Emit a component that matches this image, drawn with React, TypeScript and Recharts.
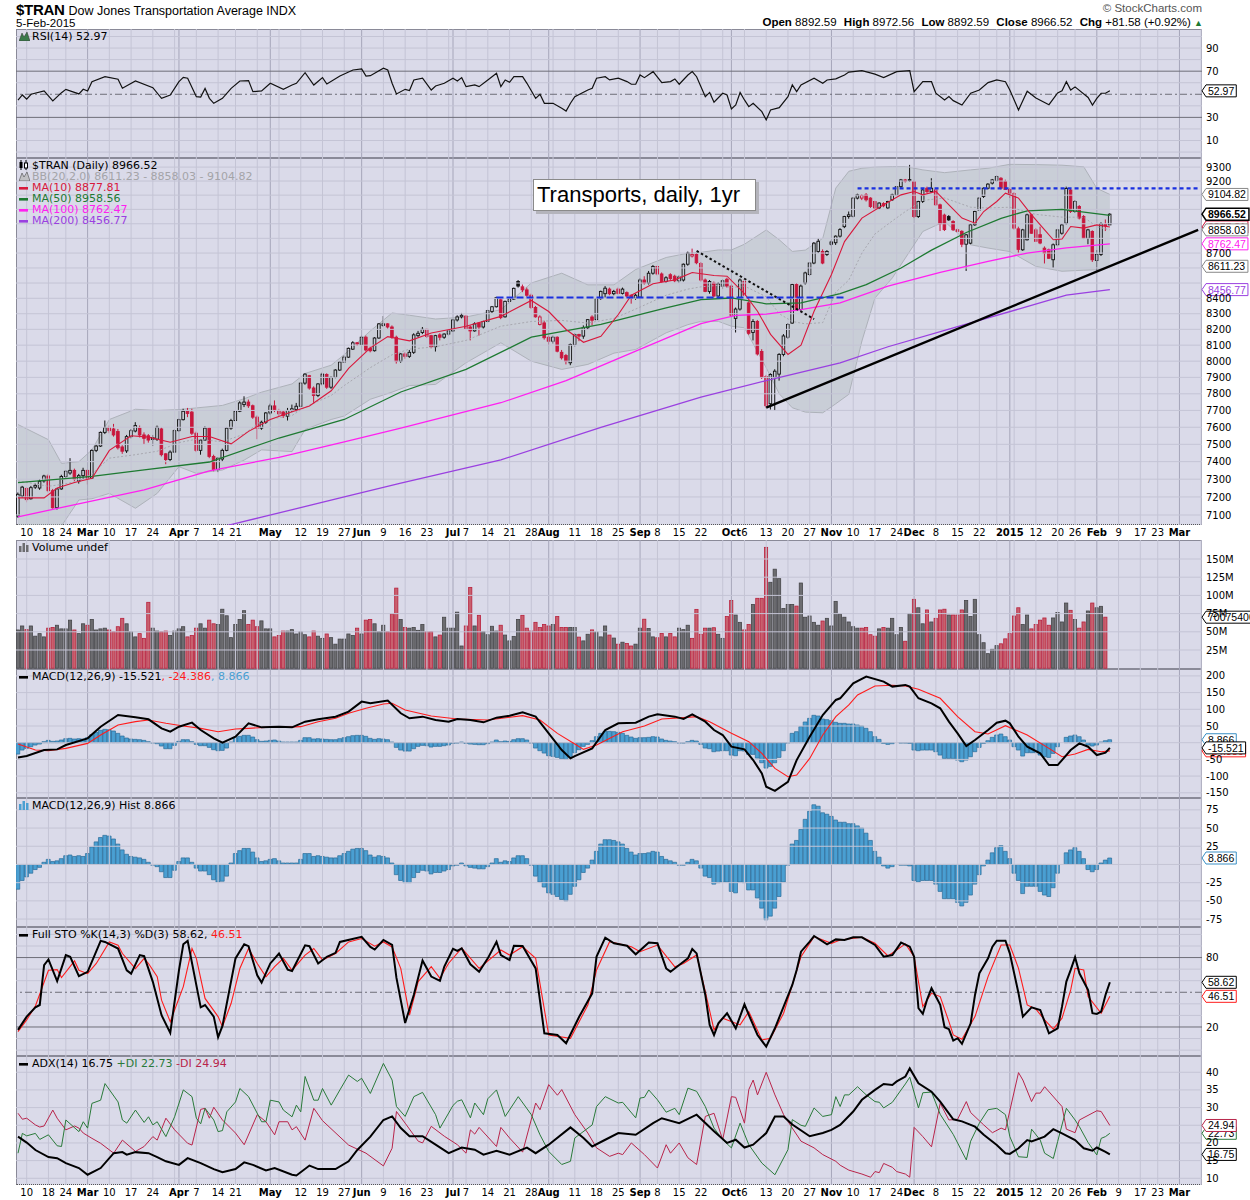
import React from "react";
import { ComposedChart, Line, Bar, Area, XAxis, YAxis, ReferenceLine } from "recharts";

// ---------- calendar ----------
const START = "2014-02-06";
const HOLIDAYS = ["2014-02-17", "2014-04-18", "2014-05-26", "2014-07-04", "2014-09-01", "2014-11-27", "2014-12-25", "2015-01-01", "2015-01-19", "2015-02-16"];

const tickDates = ["2014-02-10", "2014-02-18", "2014-02-24", "2014-03-03", "2014-03-10", "2014-03-17", "2014-03-24", "2014-04-01", "2014-04-07", "2014-04-14", "2014-04-21", "2014-05-01", "2014-05-12", "2014-05-19", "2014-05-27", "2014-06-02", "2014-06-09", "2014-06-16", "2014-06-23", "2014-07-01", "2014-07-07", "2014-07-14", "2014-07-21", "2014-07-28", "2014-08-01", "2014-08-11", "2014-08-18", "2014-08-25", "2014-09-02", "2014-09-08", "2014-09-15", "2014-09-22", "2014-10-01", "2014-10-06", "2014-10-13", "2014-10-20", "2014-10-27", "2014-11-03", "2014-11-10", "2014-11-17", "2014-11-24", "2014-12-01", "2014-12-08", "2014-12-15", "2014-12-22", "2015-01-02", "2015-01-12", "2015-01-20", "2015-01-26", "2015-02-02", "2015-02-09", "2015-02-17", "2015-02-23", "2015-03-02"];
const tickLabels = ["10", "18", "24", "Mar", "10", "17", "24", "Apr", "7", "14", "21", "May", "12", "19", "27", "Jun", "9", "16", "23", "Jul", "7", "14", "21", "28", "Aug", "11", "18", "25", "Sep", "8", "15", "22", "Oct", "6", "13", "20", "27", "Nov", "10", "17", "24", "Dec", "8", "15", "22", "2015", "12", "20", "26", "Feb", "9", "17", "23", "Mar"];

// ---------- daily prices ----------
const opens = [7095,7205,7248,7190,7255,7250,7290,7318,7235,7140,7245,7315,7335,7350,7290,7320,7350,7305,7465,7490,7570,7598,7590,7575,7485,7462,7545,7578,7595,7555,7550,7540,7530,7590,7445,7412,7455,7580,7645,7695,7690,7565,7465,7525,7595,7430,7355,7415,7465,7595,7640,7695,7735,7750,7728,7660,7595,7630,7685,7727,7700,7690,7665,7700,7705,7725,7865,7910,7835,7790,7860,7918,7840,7900,7945,7995,8025,8075,8115,8105,8150,8080,8065,8145,8225,8235,8215,8150,8000,8045,8030,8055,8160,8180,8200,8160,8090,8165,8150,8170,8190,8260,8280,8285,8215,8190,8240,8215,8250,8315,8345,8390,8280,8380,8395,8510,8475,8455,8420,8340,8231,8241,8150,8125,8150,8055,8035,7990,8104,8167,8157,8210,8279,8262,8398,8430,8460,8430,8460,8432,8437,8420,8400,8410,8520,8500,8565,8610,8560,8510,8555,8545,8515,8520,8625,8680,8690,8630,8520,8445,8500,8415,8480,8525,8480,8270,8330,8510,8370,8180,8250,8060,7905,7740,7900,7920,8042,8150,8240,8490,8327,8500,8556,8633,8711,8711,8690,8760,8770,8815,8880,8950,8952,9079,9079,9102,9079,9055,9010,9040,9010,9067,9102,9160,9208,9210,9196,8950,9055,9149,9125,9137,9032,8960,8950,8916,8859,8848,8760,8767,8893,8996,9090,9149,9185,9203,9220,9196,9140,9110,8865,8722,8790,8962,8858,8825,8733,8722,8655,8756,8835,8904,9136,8985,9020,8950,8800,8847,8650,8690,8895,8892.59];
const highs = [7225,7262,7255,7262,7275,7300,7325,7330,7245,7250,7325,7350,7420,7360,7330,7365,7355,7470,7500,7575,7640,7610,7620,7590,7495,7555,7590,7630,7610,7570,7560,7555,7610,7600,7450,7465,7590,7650,7710,7715,7710,7575,7530,7605,7600,7440,7425,7475,7600,7650,7700,7755,7785,7765,7735,7670,7640,7690,7740,7760,7710,7700,7715,7735,7745,7870,7925,7915,7845,7865,7930,7925,7905,7950,8000,8035,8085,8125,8120,8160,8160,8090,8150,8240,8285,8240,8225,8160,8050,8055,8070,8175,8190,8215,8205,8165,8165,8175,8175,8200,8265,8290,8305,8290,8225,8245,8245,8255,8325,8350,8410,8400,8385,8400,8470,8520,8490,8470,8430,8350,8290,8255,8160,8160,8155,8070,8045,8110,8175,8172,8225,8265,8290,8400,8450,8480,8470,8455,8470,8470,8445,8425,8430,8530,8545,8580,8620,8615,8570,8545,8565,8555,8550,8630,8710,8730,8700,8640,8530,8520,8510,8505,8525,8535,8485,8340,8530,8525,8380,8265,8260,8075,7915,7925,7950,8050,8170,8240,8495,8500,8490,8575,8640,8775,8800,8725,8720,8785,8820,8870,8955,8985,9085,9110,9105,9115,9085,9060,9050,9050,9060,9110,9165,9215,9215,9316,9205,9060,9145,9160,9220,9145,9040,8970,8960,8925,8870,8855,8830,8900,8990,9085,9155,9185,9215,9240,9228,9210,9150,9120,8880,8865,8970,8970,8870,8880,8745,8730,8765,8865,8900,9160,9145,9065,9030,8960,8865,8855,8720,8910,8930,8972.56];
const lows = [7085,7195,7170,7185,7245,7240,7280,7225,7135,7130,7240,7305,7325,7290,7275,7300,7270,7300,7455,7485,7560,7565,7545,7470,7445,7450,7535,7570,7540,7500,7510,7490,7520,7430,7385,7400,7450,7575,7640,7660,7555,7455,7440,7520,7420,7345,7340,7400,7460,7585,7635,7690,7720,7715,7650,7530,7585,7620,7675,7690,7665,7655,7640,7690,7695,7720,7855,7825,7745,7780,7850,7830,7830,7895,7940,7990,8020,8070,8095,8100,8060,8055,8060,8140,8215,8205,8140,7985,7990,8015,8020,8045,8150,8170,8145,8080,8060,8130,8140,8160,8185,8250,8270,8200,8130,8185,8160,8205,8245,8305,8340,8265,8275,8365,8390,8470,8440,8410,8330,8275,8225,8135,8095,8110,8055,8010,7980,7975,8090,8125,8140,8200,8225,8255,8390,8405,8420,8420,8425,8425,8405,8365,8390,8400,8490,8490,8555,8550,8500,8500,8520,8505,8500,8510,8615,8670,8625,8510,8440,8430,8405,8410,8460,8470,8280,8180,8320,8415,8165,8130,8035,7890,7715,7705,7700,7880,8030,8140,8235,8320,8320,8490,8545,8625,8700,8625,8680,8750,8755,8805,8870,8935,8945,9070,9065,9055,9010,9000,9000,9015,9000,9060,9095,9150,9190,9195,8940,8940,9045,9115,9115,9025,8850,8850,8920,8850,8840,8740,8580,8760,8885,8990,9080,9140,9175,9195,9140,9140,9080,8860,8700,8715,8785,8830,8775,8760,8630,8660,8600,8745,8825,8895,8975,8975,8930,8795,8760,8640,8580,8680,8850,8892.59];
const closes = [7215,7255,7185,7252,7265,7288,7318,7235,7140,7245,7315,7345,7350,7300,7320,7350,7305,7465,7490,7570,7598,7580,7555,7480,7460,7545,7580,7610,7555,7535,7525,7528,7600,7440,7412,7455,7580,7645,7695,7682,7565,7465,7525,7595,7430,7355,7420,7465,7595,7640,7695,7745,7750,7728,7660,7595,7630,7685,7727,7700,7680,7670,7700,7710,7725,7865,7920,7835,7790,7860,7920,7840,7900,7945,7995,8025,8080,8115,8108,8150,8070,8065,8145,8235,8235,8215,8150,8000,8045,8030,8055,8165,8175,8200,8155,8090,8160,8150,8170,8190,8260,8280,8290,8205,8190,8235,8215,8250,8320,8345,8405,8275,8380,8395,8465,8480,8455,8420,8340,8280,8279,8147,8125,8150,8062,8021,8000,8104,8167,8157,8210,8262,8258,8398,8445,8466,8430,8445,8432,8460,8415,8400,8420,8520,8500,8565,8610,8560,8510,8535,8530,8515,8540,8625,8700,8690,8635,8520,8445,8510,8415,8495,8515,8480,8290,8330,8520,8420,8175,8250,8045,7900,7728,7918,7938,8042,8158,8231,8490,8327,8480,8567,8633,8767,8780,8633,8711,8775,8815,8860,8950,8962,9079,9102,9098,9067,9020,9010,9044,9025,9055,9102,9160,9208,9200,9204,8950,9055,9137,9125,9149,9032,8900,8860,8927,8859,8848,8760,8824,8893,8985,9079,9149,9178,9208,9232,9149,9140,9115,8870,8725,8858,8962,8835,8780,8768,8700,8665,8756,8858,8892,9147,8985,9055,8940,8800,8858,8655,8690,8900,8884.94,8966.52];

// volume, millions (Feb 5 not yet reported)
const volumes = [52.5,58,53,58,44,47.5,43,55,56,59,54,54,66,52.5,47.5,61,59,67,52.5,54,55,52.5,50,57,68.5,61,50,43,47.5,41,90.5,55,51,50,51,45,51,54,57,43,45,55,61,55,66,61,60,81,72,42,60,67,79,60,66,57,65,54,54,43,45,51,51,53,47,50,46,43,51,44,41,47,42,33,40,40,47,45,55,47,66,67,61,50,59,50,74.5,110,67,56,55,56,52,60,50,50,43,45.5,70,55,55,77,30.5,58,111,58,72.6,50,46,57.6,51,59,45.5,37.5,43.7,67,72.6,55,51,63,56,60,58,60,71,56,56,56,56,42.7,37.5,46.6,52.6,49.7,43,58,45.5,41.4,33,35.7,34,30.5,33,55,67.3,54.4,43,41.8,47.7,43,47.7,43,55,53,59,41,80.8,46.6,55,55,55.6,46.6,41,71,93,73,63,52.6,60,87.6,96,96,166,118,136,123,82,87.6,87.6,85.3,117,70,71.7,63,59,64.8,68.5,58,91.8,74.5,70,63.5,57,55,55,56,46,44,54,56,55,68.5,46,56,37,75,94.6,83,61,80,63.5,68.5,80,81,73,73,73,80,93,71,94.6,46,35,20,26,31,33.5,40.3,47.5,71.7,83,60,73,54,60,66,69,59,69,76.4,63.5,89.5,79.5,67,55,63.5,78.6,89.5,83,85,70.0754,null];

const macdHist = [-34,-22,-17,-12,-7,-4,3,7,4,5,8,12,13,11,12,11,15,24,31,37,40,39,35,28,20,14,11,10,9,7,3,-1,-3,-10,-18,-18,-8,4,9,9,3,-5,-9,-9,-14,-21,-24,-23,-16,2,15,19,22,22,17,9,4,5,7,8,5,2,2,2,2,7,15,15,11,12,11,10,9,9,12,15,18,21,22,22,19,13,10,12,11,9,2,-14,-22,-25,-25,-18,-11,-8,-9,-13,-11,-11,-9,-7,-2,-1,2,-2,-4,-5,-6,-6,-3,2,8,3,5,4,9,12,12,8,-1,-16,-24,-31,-39,-41,-44,-48,-50,-41,-30,-21,-11,-5,6,18,28,34,34,33,31,28,22,17,13,15,15,16,18,17,11,7,5,3,-1,-1,3,7,5,-5,-16,-18,-27,-25,-24,-24,-37,-39,-24,-25,-35,-35,-46,-60,-76,-71,-60,-44,-24,-1,28,33,48,62,73,82,80,71,69,66,61,58,58,56,56,53,50,43,33,18,10,-2,-5,-3,0,-1,-1,-2,-22,-24,-22,-22,-22,-27,-37,-47,-47,-47,-52,-57,-52,-42,-27,-14,-2,6,16,23,26,18,8,-12,-22,-40,-30,-30,-30,-37,-42,-44,-32,-12,0,16,20,23,18,8,-7,-10,-7,2,6,8.866];

// ---------- overlays read at intervals: [day index, value] ----------
const ma10Pts = [[0,7195],[6,7195],[9,7250],[13,7281],[17,7305],[21,7465],[26,7550],[30,7542],[35,7512],[40,7546],[44,7546],[49,7503],[53,7576],[58,7646],[62,7683],[67,7727],[72,7818],[76,7955],[81,8083],[85,8154],[90,8127],[95,8177],[103,8220],[111,8283],[118,8386],[122,8314],[126,8199],[130,8118],[134,8156],[138,8295],[141,8420],[146,8495],[151,8521],[155,8570],[160,8550],[163,8545],[167,8430],[170,8316],[173,8168],[177,8042],[180,8100],[183,8316],[187,8556],[190,8778],[194,8939],[199,9032],[203,9102],[206,9126],[208,9102],[211,9126],[214,9032],[217,8939],[220,8904],[222,8985],[225,9055],[227,9114],[230,9079],[233,8962],[236,8858],[238,8790],[240,8795],[242,8881],[245,8870],[248,8892],[251,8877.81]];
const ma50Pts = [[0,7281],[17,7316],[29,7353],[44,7398],[60,7537],[75,7646],[88,7811],[103,7949],[118,8150],[134,8231],[149,8338],[157,8391],[164,8402],[172,8364],[180,8370],[189,8430],[195,8490],[203,8600],[210,8720],[218,8840],[226,8938],[232,8990],[240,9000],[251,8958.56]];
const ma100Pts = [[0,7090],[29,7240],[44,7347],[60,7425],[75,7515],[88,7595],[111,7746],[126,7880],[142,8062],[157,8237],[165,8290],[172,8297],[180,8326],[189,8370],[200,8480],[212,8570],[223,8644],[232,8700],[241,8735],[251,8762.47]];
const ma200Pts = [[48,7042],[56,7088],[75,7200],[88,7278],[111,7410],[134,7600],[157,7780],[172,7880],[189,7990],[200,8090],[215,8210],[230,8330],[241,8420],[251,8456.77]];

const bbIdx = [0,7,10,14,17,21,27,32,37,41,47,52,56,63,66,72,75,81,86,90,96,103,111,118,125,131,137,142,149,154,157,161,164,167,172,175,178,181,185,188,191,194,197,201,204,208,213,219,223,228,234,240,245,248,251];
const bbUpper = [7616,7527,7390,7400,7468,7646,7707,7700,7705,7715,7730,7770,7810,7860,7924,7975,8041,8190,8305,8290,8266,8279,8326,8500,8565,8488,8488,8590,8670,8699,8705,8721,8721,8760,8857,8790,8711,8720,8800,9150,9270,9292,9300,9304,9304,9280,9260,9280,9292,9320,9318,9314,9302,9148,9104.82];
const bbLower = [6950,6985,7040,7183,7190,7220,7137,7220,7371,7333,7352,7409,7468,7458,7587,7646,7667,7767,7810,7850,7857,7990,8115,8000,7949,7980,8050,8073,8178,8230,8251,8251,8220,8210,7959,7800,7716,7690,7686,7740,7797,8126,8402,8534,8667,8847,8916,8756,8734,8710,8610,8578,8585,8588,8611.23];
const bbMid = [7290,7260,7270,7290,7330,7420,7440,7460,7510,7530,7515,7560,7640,7670,7720,7790,7850,7960,8040,8075,8090,8130,8220,8250,8257,8240,8270,8330,8420,8460,8475,8485,8470,8480,8410,8300,8250,8235,8243,8440,8520,8700,8830,8920,8985,9063,9080,9015,9010,9015,8965,8946,8945,8880,8858.03];

const rsiPts = [[0,45],[1,49.4],[2,45.7],[3,50],[6,52.9],[8,44.2],[10,51.4],[11,54.3],[14,50.3],[15,54.3],[16,52.8],[17,60.9],[20,65.2],[23,63],[24,55.2],[27,61.5],[31,55.7],[33,46.5],[35,49.4],[37,60.9],[38,64.7],[39,63.9],[41,47.9],[42,47.6],[43,55.1],[44,46.5],[45,42.2],[47,46.5],[49,55.1],[51,61.5],[53,61.8],[54,52.3],[56,52.9],[58,59.5],[61,54.3],[63,58],[64,59.5],[66,68.7],[68,58],[70,64.4],[71,58.9],[74,65.8],[77,71],[79,71.9],[80,65.8],[81,66.1],[84,72.5],[85,71],[86,59.5],[87,50.3],[89,54.3],[90,53.2],[91,62.4],[93,63.9],[95,53.7],[96,57.2],[98,59.5],[100,63.9],[101,61.5],[102,64.4],[103,56.6],[105,58.1],[106,56.6],[108,62.4],[110,68.2],[111,56.6],[112,62.4],[113,60.4],[114,65.2],[116,65.2],[117,59.5],[119,46.5],[120,50],[121,42.2],[123,42.2],[125,37.9],[126,35.5],[127,42.2],[128,47.9],[131,53.7],[132,55.2],[133,63.9],[135,65.2],[136,62.4],[138,63.9],[140,61],[141,58.7],[142,58.7],[143,66.7],[144,64.4],[146,69.6],[148,60.1],[150,61],[151,63.3],[152,58.7],[154,66.7],[155,69.6],[156,65.2],[158,47.9],[159,51.6],[160,43.1],[162,50.9],[163,49.4],[164,37.3],[165,40.8],[166,51.6],[167,45.1],[168,39.3],[169,42.2],[171,35],[172,27.8],[173,36.4],[175,38.4],[177,47.9],[178,58.1],[179,52.3],[180,58.1],[183,63.9],[185,59.5],[186,62.4],[188,63.3],[190,66.7],[191,69.2],[194,70.4],[197,67.4],[199,64.4],[202,69.6],[205,70.4],[206,52.3],[208,60.9],[210,60.9],[211,50.9],[213,45.1],[214,48],[215,44.5],[217,40.7],[219,50.9],[221,53.7],[223,60.1],[225,62.4],[227,60.9],[228,53.7],[230,36.4],[232,52.6],[234,46.8],[237,41],[239,51.1],[240,53.1],[241,60.9],[242,53.7],[243,56.4],[246,47.2],[247,40.7],[248,46.4],[249,50.9],[250,50.9],[251,52.97]];

const macdPts = [[0,-44],[2,-40],[6,-22],[9,-20],[11,-7],[16,13],[19,48],[23,83],[27,76],[30,70],[33,43],[35,33],[37,48],[40,60],[42,38],[45,13],[47,0],[50,18],[53,58],[56,46],[60,48],[63,46],[66,63],[69,70],[73,78],[76,93],[79,123],[81,118],[85,126],[88,88],[90,73],[93,78],[96,68],[99,63],[101,71],[104,68],[107,61],[110,75],[113,81],[116,91],[119,78],[122,28],[125,-22],[127,-47],[128,-40],[132,-17],[135,38],[138,58],[142,60],[145,78],[147,85],[151,78],[153,71],[155,85],[158,63],[160,38],[162,23],[164,-12],[167,-20],[169,-52],[171,-92],[172,-132],[174,-144],[177,-117],[179,-52],[182,18],[185,83],[188,128],[189,133],[192,178],[195,198],[199,183],[201,168],[204,173],[205,168],[207,133],[210,118],[212,103],[214,63],[216,28],[218,-10],[220,8],[223,38],[225,60],[227,66],[228,58],[230,18],[232,-12],[235,-32],[237,-67],[239,-67],[240,-52],[242,-22],[244,-2],[246,-12],[248,-37],[250,-30],[251,-15.521]];
const signalPts = [[0,-4],[4,-22],[7,-24],[11,-17],[16,-2],[19,23],[23,53],[27,63],[30,68],[34,58],[38,50],[42,43],[46,33],[50,41],[53,43],[57,46],[61,46],[65,48],[69,63],[73,73],[76,88],[80,103],[84,116],[86,118],[89,98],[95,80],[101,71],[108,68],[116,81],[120,68],[124,28],[128,-4],[130,-20],[133,-7],[139,33],[144,50],[148,71],[153,75],[156,78],[159,63],[164,28],[168,3],[171,-32],[174,-77],[177,-102],[179,-97],[182,-47],[185,23],[188,78],[191,113],[193,143],[197,170],[201,172],[204,170],[207,160],[212,133],[216,78],[220,33],[223,26],[227,51],[232,23],[237,-17],[240,-42],[243,-34],[246,-20],[249,-27],[251,-24.386]];

const stoKPts = [[0,17.5],[2,29],[4,37],[5,39],[6,73.5],[7,78.4],[9,59.6],[11,82.1],[12,80.7],[14,64],[16,67.7],[19,94.4],[20,93.5],[23,87.8],[25,69],[26,66.1],[28,82.1],[29,81.2],[31,59],[33,30.2],[35,14.9],[37,69],[38,91.5],[39,94.4],[42,37],[43,39],[45,29],[46,11.2],[47,20.9],[50,79.3],[52,91.5],[53,89.8],[55,64.7],[56,58.4],[58,74.9],[60,83.5],[62,69.6],[63,68.4],[66,90.6],[67,89.8],[69,74.9],[71,80.7],[73,84.1],[74,93.5],[79,97.9],[81,89.2],[82,86.9],[84,95.2],[86,91],[87,62.4],[89,23.5],[91,47.8],[93,77.4],[95,63.6],[97,59.8],[98,72.2],[100,87.5],[101,85.7],[102,88],[104,74.2],[106,67.8],[108,79.3],[110,93.7],[111,82.2],[113,77.8],[114,90.2],[116,89.9],[119,70.6],[121,14.5],[124,13.1],[126,5.9],[129,28.9],[132,49.1],[133,80.8],[135,97.2],[137,92.3],[140,90.2],[142,82.8],[145,92.9],[147,92.3],[149,70.6],[150,67.8],[152,73.5],[154,79.3],[155,87.4],[156,83.6],[158,47.7],[159,21.8],[160,13.1],[161,23.2],[163,31.9],[165,18.9],[167,39.6],[168,30.4],[170,13.1],[172,3],[174,18.9],[176,37.6],[178,56.3],[179,69.3],[180,85.1],[182,93.7],[183,98.6],[186,91.4],[188,95.7],[190,95.2],[192,97.5],[194,97.5],[197,90.9],[199,80.8],[201,82.2],[203,92.9],[205,89.4],[206,80.8],[207,36.2],[208,31.3],[209,43.9],[210,53.5],[212,39.1],[213,19.8],[214,18.1],[215,8.3],[216,10.3],[217,5.4],[219,23.2],[220,47.7],[221,66.4],[223,79.3],[224,89.4],[225,94.6],[227,94.6],[228,83.6],[230,49.1],[231,29],[233,37],[235,34.7],[236,24.6],[237,14.5],[239,18.9],[240,37.6],[241,59.2],[242,69.3],[243,80.3],[244,66.4],[246,52],[247,31.9],[248,31.3],[249,33.3],[250,47.7],[251,58.62]];
const stoDPts = [[0,16],[2,26.1],[4,38.2],[7,69],[9,69.6],[10,62.7],[13,77.1],[14,69],[16,66.1],[18,74.9],[21,93.5],[23,90.6],[24,83.5],[27,70.5],[29,79.3],[30,74.9],[32,63.4],[33,43.2],[35,24.6],[38,54.9],[40,87.8],[41,79.3],[43,44.7],[46,29],[47,20.3],[49,40.5],[51,70.5],[53,87.8],[55,74.9],[57,63.4],[59,72.1],[61,79.3],[63,69],[66,82.1],[68,87.8],[70,77.8],[73,83.5],[76,93.5],[79,96.4],[82,89.8],[84,93.5],[86,89.2],[88,70.5],[90,30.2],[92,59.2],[95,72.2],[97,62.1],[99,75.1],[102,88.1],[106,70.7],[111,86.5],[113,82.2],[116,89.4],[119,79.3],[122,13.1],[127,10.2],[131,39],[133,69.3],[136,93.7],[141,89.4],[143,85.1],[147,90.8],[151,72],[153,74.9],[156,82.2],[158,50.6],[160,17.5],[162,27.6],[166,21.8],[168,33.3],[171,8.8],[173,10.2],[176,31.9],[180,80.8],[183,98.1],[187,92.3],[189,95.2],[194,97.5],[197,92.3],[200,81.4],[204,91.8],[206,80.8],[208,37.6],[210,49.1],[212,46.3],[214,24.6],[215,13.1],[217,9.4],[220,29],[223,63.5],[226,90.9],[228,90.9],[230,70.7],[232,39.1],[234,35.4],[236,26.1],[238,18.1],[240,27.6],[242,52],[243,70.7],[245,69.3],[246,46.3],[249,31.9],[251,46.51]];

const adxPts = [[0,21.8],[2,20.1],[4,18],[7,16],[9,15.7],[11,14.3],[14,12.9],[16,11],[19,12.9],[22,17.1],[24,17.4],[25,16.7],[27,17.4],[30,17.1],[32,16],[34,14.8],[37,13.8],[39,15.7],[42,14.3],[45,12.6],[47,11.7],[50,12.6],[52,14.5],[54,13.8],[57,12.2],[59,12.9],[63,11],[64,10.8],[67,13.6],[69,12.6],[73,12.6],[76,14.8],[78,18],[81,21.8],[84,26.5],[86,27.5],[88,24.2],[90,21.9],[93,21.9],[96,19.5],[99,17.1],[102,18.7],[105,18.1],[107,16.7],[110,17.8],[113,16.7],[117,18.7],[119,17.1],[122,19.5],[127,24.4],[130,21.4],[132,19],[135,20.9],[138,22.8],[142,22.3],[146,25.6],[148,27],[152,25.6],[156,28],[160,23.3],[163,20],[165,20.9],[167,18.7],[169,19.5],[172,22.8],[174,27.5],[176,27.5],[178,25.2],[182,21.9],[185,22.8],[187,23.7],[189,25.1],[192,28.9],[194,32.2],[197,35],[199,36.7],[201,36.4],[202,37.4],[204,38.8],[205,41.1],[207,36.9],[210,34.5],[212,31.7],[215,26.7],[217,26.1],[220,24.6],[222,22.3],[225,19.4],[227,17.1],[228,16.9],[230,18.5],[232,20.8],[233,20.4],[236,21.8],[238,23.9],[240,22.7],[243,20.8],[245,18.5],[247,17.8],[248,18.7],[250,17.5],[251,16.75]];
const plusDiPts = [[0,17.1],[1,22.7],[2,22],[4,22.7],[5,21],[7,22.3],[9,19.2],[10,19],[11,26.5],[14,23.2],[15,26],[16,24.2],[17,31.2],[19,32.1],[20,36.8],[23,31.6],[24,26.5],[25,25.6],[27,29.3],[29,25.8],[30,27.4],[31,25.1],[32,26],[34,21.8],[36,27.4],[38,35],[40,33.1],[41,27],[42,25.4],[43,29.8],[45,26.5],[46,23.2],[47,23.5],[48,28.8],[50,31.6],[51,35.4],[53,33.1],[56,26],[57,26],[58,32.1],[60,31.6],[61,29.3],[63,27.4],[64,30.7],[65,28.8],[66,38.8],[68,32.1],[69,32.1],[70,35.4],[72,30.7],[74,35],[76,39.2],[78,37.4],[79,38.3],[81,34],[84,42.5],[86,37.8],[87,30.3],[89,27.5],[91,33.1],[93,34.3],[96,28],[97,24.2],[100,30.6],[101,31.8],[102,32.2],[104,27.1],[105,31.3],[107,28],[108,32.5],[110,35],[112,27.5],[115,33.1],[118,28],[120,22.3],[122,17.6],[125,13.9],[127,14.8],[128,21.4],[132,25.1],[133,30.3],[135,33.1],[138,31.3],[139,31.5],[142,27.1],[143,32.7],[144,32.9],[145,35],[147,32.2],[149,28.7],[151,29.8],[152,28],[154,35.5],[156,34.6],[158,30.3],[160,24.2],[162,20.9],[164,18.6],[166,25.6],[168,19.5],[171,14.3],[174,11],[177,18.1],[178,26.6],[180,25],[181,24.7],[183,29.9],[185,27.5],[187,28],[188,33.1],[189,30.3],[190,33.6],[191,33.6],[193,35.9],[195,33.6],[197,31.7],[198,31.5],[199,29.9],[201,31.5],[203,35],[204,36.7],[205,38.6],[207,29.9],[208,34.2],[210,34.4],[212,28.1],[215,22.4],[218,15.2],[219,20.5],[221,25.6],[223,29.4],[225,29.8],[227,28],[228,21.8],[230,16.1],[232,15.9],[233,23.9],[235,20.8],[236,17.1],[238,15.6],[239,20.4],[241,29.8],[243,26.5],[244,24.6],[246,20.1],[248,16.6],[249,21.3],[250,21.8],[251,22.73]];
const minusDiPts = [[0,28.4],[1,26.7],[2,27],[4,25.1],[5,24.5],[6,24.8],[8,29.3],[9,27],[11,23.7],[13,24.8],[14,24.2],[15,22.8],[17,21.3],[19,19.9],[22,17.1],[24,20.8],[27,17.6],[29,19],[31,21.8],[32,20.8],[34,27],[36,23.7],[39,19.9],[40,19.4],[42,29.5],[43,29.8],[44,27],[45,30.1],[47,26.5],[50,22.8],[52,19.5],[55,28],[57,26],[59,22.3],[60,26],[62,26],[63,23.7],[64,24.6],[66,20.8],[68,29.8],[70,26.3],[76,19.4],[80,17.1],[84,13.5],[86,18.5],[87,28.9],[89,25.6],[92,20.5],[93,20],[95,24.7],[98,21.9],[101,19.5],[103,17.1],[104,23.7],[105,22.5],[106,24.4],[110,19],[111,24.4],[113,21.4],[116,17.4],[119,31.3],[120,29.4],[122,36.5],[124,33.5],[125,35.1],[128,28],[131,22.8],[133,18.6],[136,16.2],[138,17.1],[139,16.7],[141,20],[144,16.7],[147,12.9],[149,19.5],[150,17.1],[152,20],[154,15.8],[156,13.9],[158,27.5],[160,28.4],[162,20.9],[164,33.1],[165,32.9],[167,25.6],[168,35.1],[169,37.8],[170,33.6],[172,40],[174,33.6],[176,28],[178,24.2],[180,20.5],[183,18.6],[185,16.7],[188,14.8],[189,13.7],[191,12.3],[194,11.2],[196,10.3],[197,11.9],[198,11.6],[199,14.2],[201,13.1],[202,11.9],[204,11.2],[205,10.3],[206,24.4],[208,21.8],[210,18.9],[212,31.2],[214,26.5],[216,26.7],[218,31.7],[219,28.6],[222,25.1],[224,22.9],[226,24.2],[227,23.7],[230,39.9],[231,37.8],[233,31.7],[234,34.1],[235,34.1],[236,35.9],[240,30.3],[241,23.9],[243,22.9],[244,26.5],[248,29.1],[249,28.9],[251,24.94]];

// hand-drawn annotations: [startIdx, startPrice, endIdx, endPrice]
const dottedTrend = [156, 8715, 183, 8265];
const lowerResist = [110, 8405, 190, 8405];
const upperResist = [193, 9148, 271.3, 9148];
const supportTrend = [172, 7717, 271.3, 8858];

// ---------- build table ----------
function tradingDays(start: string, count: number) {
  const out: string[] = [];
  const d = new Date(start + "T12:00:00Z");
  while (out.length < count) {
    const dow = d.getUTCDay();
    const s = d.toISOString().slice(0, 10);
    if (dow !== 0 && dow !== 6 && !HOLIDAYS.includes(s)) out.push(s);
    d.setUTCDate(d.getUTCDate() + 1);
  }
  return out;
}
const days = tradingDays(START, 273);

const rows: any[] = closes.map((c, i) => ({
  i, o: opens[i], h: highs[i], l: lows[i], c,
  range: [lows[i], highs[i]],
  vol: volumes[i],
  hist: macdHist[i],
  down: i > 0 && c < closes[i - 1],
}));
const put = (key: string, pts: number[][]) => pts.forEach(([i, v]) => { rows[i][key] = v; });
put("ma10", ma10Pts); put("ma50", ma50Pts); put("ma100", ma100Pts); put("ma200", ma200Pts);
put("rsi", rsiPts); put("macd", macdPts); put("signal", signalPts);
put("k", stoKPts); put("d", stoDPts); put("adx", adxPts); put("pdi", plusDiPts); put("mdi", minusDiPts);
bbIdx.forEach((i, n) => { rows[i].bb = [bbLower[n], bbUpper[n]]; rows[i].bbMid = bbMid[n]; });

const tickIdx = tickDates.map((d) => days.indexOf(d));
const labelAt: Record<number, string> = {};
tickIdx.forEach((k, n) => { labelAt[k] = tickLabels[n]; });

const weekLines: number[] = [];
const monthLines: number[] = [];
for (let k = 1; k < days.length; k++) {
  const a = new Date(days[k - 1] + "T12:00:00Z");
  const b = new Date(days[k] + "T12:00:00Z");
  if (b.getUTCMonth() !== a.getUTCMonth()) monthLines.push(k);
  else if (b.getUTCDay() < a.getUTCDay()) weekLines.push(k);
}
if (!monthLines.includes(tickIdx[0]) && !weekLines.includes(tickIdx[0])) weekLines.push(tickIdx[0]);

// ---------- style ----------
const W = 1250;
const LEFT = 16;
const AXW = 48;
const PLOT_W = W - LEFT - AXW;
const XDOM: [number, number] = [-0.46, 272.18];
const BG = "#dadae9";
const GRID = "#c4c4d5";
const GRID_M = "#a6a6ba";
const RED = "#c8163c";
const DARK = "#6e6e78";
const FONT = "DejaVu Sans, Verdana, sans-serif";
const TAGFONT = "Liberation Sans, Arial, sans-serif";
const margin = { top: 0, right: 0, bottom: 0, left: LEFT };
const range = (a: number, b: number, s: number) => { const r: number[] = []; for (let v = a; v <= b + 1e-9; v += s) r.push(v); return r; };

const Candle = (p: any) => {
  const { x, y, width, height, payload } = p;
  if (!payload || height == null || isNaN(y)) return null;
  const { o, h, l, c, down } = payload;
  const cx = x + width / 2;
  const lh = Math.log(h), ll = Math.log(l);
  const py = (v: number) => (lh === ll ? y : y + (height * (lh - Math.log(v))) / (lh - ll));
  const col = down ? RED : "#111";
  const top = py(Math.max(o, c));
  const bot = py(Math.min(o, c));
  const filled = c < o;
  const bh = Math.max(bot - top, 1);
  return (
    <g>
      <line x1={cx} x2={cx} y1={y} y2={top} stroke={col} strokeWidth={1} />
      <line x1={cx} x2={cx} y1={top + bh} y2={y + height} stroke={col} strokeWidth={1} />
      <rect x={cx - 1.3} y={top} width={2.6} height={bh} fill={filled ? col : "none"} stroke={col} strokeWidth={0.9} />
    </g>
  );
};

const VolBar = (p: any) => {
  const { x, y, width, height, payload } = p;
  if (!payload || !height || isNaN(y)) return null;
  const red = payload.down;
  return <rect x={x + 0.4} y={y} width={width - 0.8} height={height} fill={red ? "#c8606e" : "#6c6c70"} stroke={red ? "#b8203c" : "#454548"} strokeWidth={0.8} />;
};

const DateTick = (p: any) => {
  const lbl = labelAt[p.payload.value] ?? "";
  const bold = /[A-Za-z]/.test(lbl) || lbl === "2015";
  return (
    <text x={p.x} y={p.y + 11} textAnchor="middle" fontSize={10} fontFamily={FONT} fontWeight={bold ? 700 : 400} fill="#000">{lbl}</text>
  );
};

// value tag at the right edge, pointing at the value
const TAG_FS = 10.5;
const textW = (t: string) => [...t].reduce((s, ch) => s + (ch === "." ? 0.278 : ch === "-" ? 0.333 : 0.556), 0) * TAG_FS;
const tag = (text: string, border: string, color = "#000", bold = false) => (props: any) => {
  const vb = props.viewBox;
  if (!vb) return null;
  const x0 = vb.x + vb.width;
  const y0 = vb.y;
  const w = textW(text) + (bold ? 5 : 4);
  return (
    <g>
      <path d={`M${x0},${y0} L${x0 + 4},${y0 - 6} L${x0 + 4 + w},${y0 - 6} L${x0 + 4 + w},${y0 + 6} L${x0 + 4},${y0 + 6} Z`} fill="#fff" stroke={border} strokeWidth={bold ? 1.5 : 1} />
      <text x={x0 + 6} y={y0 + 4} fontSize={TAG_FS} fontFamily={TAGFONT} fontWeight={bold ? 700 : 400} fill={color}>{text}</text>
    </g>
  );
};

const vGrid = () => [
  ...weekLines.filter((k) => k < XDOM[1]).map((k) => <ReferenceLine key={"w" + k} x={k} stroke={GRID} strokeWidth={1} />),
  ...monthLines.filter((k) => k < XDOM[1]).map((k) => <ReferenceLine key={"m" + k} x={k} stroke={GRID_M} strokeWidth={1} />),
];
const hGrid = (vals: number[]) => vals.map((v) => <ReferenceLine key={"h" + v} y={v} stroke={GRID} strokeWidth={1} />);

const xAxis = (show: boolean) => (
  <XAxis type="number" dataKey="i" domain={XDOM} allowDataOverflow ticks={tickIdx} interval={0} hide={!show} height={15} tickLine={false} axisLine={false} tickSize={0} tickMargin={0} tick={<DateTick />} />
);
const yAxis = (domain: [number, number], ticks: number[], fmt?: (v: number) => string, scale?: any) => (
  <YAxis orientation="right" width={AXW} domain={domain} allowDataOverflow ticks={ticks} interval={0} scale={scale || "linear"} tickLine={false} axisLine={false} tickSize={0} tickMargin={4} tick={{ fontSize: 10, fontFamily: FONT, fill: "#000" }} tickFormatter={fmt} />
);

const Frame = ({ top, height, dotted }: any) => (
  <div style={{ position: "absolute", left: LEFT, top, width: PLOT_W, height, background: BG, border: "1px solid #8a8a98", borderBottom: dotted ? "1px dotted #555" : "1px solid #8a8a98", boxSizing: "border-box" }} />
);

const Legend = ({ top, children }: any) => (
  <div style={{ position: "absolute", left: 19, top, font: `11px ${FONT}`, lineHeight: "13px", whiteSpace: "nowrap", color: "#000" }}>{children}</div>
);
const Dash = ({ color }: any) => (
  <svg width="11" height="9" style={{ marginRight: 2, verticalAlign: "middle" }}><rect x="0" y="3" width="9" height="2.6" fill={color} /></svg>
);
const Mount = ({ color }: any) => (
  <svg width="11" height="10" style={{ marginRight: 2, verticalAlign: "-1px" }}><path d="M0,10 L3,2 L5,6 L8,1 L11,10 Z" fill={color} stroke="#333" strokeWidth="0.5" /></svg>
);
const Bars = ({ color }: any) => (
  <svg width="11" height="10" style={{ marginRight: 2, verticalAlign: "-1px" }}><rect x="0" y="4" width="2.5" height="6" fill={color} /><rect x="3.5" y="1" width="2.5" height="9" fill={color} /><rect x="7" y="3" width="2.5" height="7" fill={color} /></svg>
);
const CandleIcon = () => (
  <svg width="11" height="10" style={{ marginRight: 2, verticalAlign: "-1px" }}><line x1="2" x2="2" y1="0" y2="10" stroke="#000" /><rect x="0.5" y="2" width="3" height="6" fill="#000" /><line x1="7" x2="7" y1="0" y2="10" stroke="#000" /><rect x="5.5" y="3" width="3" height="5" fill="#fff" stroke="#000" /></svg>
);

const seg = (s: number[]) => [{ x: s[0], y: s[1] }, { x: s[2], y: s[3] }];

export default function App() {
  const P = { rsi: 29, price: 158, vol: 540, macd: 669, hist: 798, sto: 927, adx: 1056 };
  const H = 129;
  const PH = 367;
  return (
    <div style={{ position: "absolute", left: 0, top: 0, width: W, height: 1200, background: "#fff", overflow: "hidden", fontFamily: FONT }}>
      {/* header */}
      <div style={{ position: "absolute", left: 16, top: 1, whiteSpace: "nowrap", fontFamily: TAGFONT }}>
        <span style={{ fontSize: 15, fontWeight: 700, letterSpacing: -0.3 }}>$TRAN</span>
        <span style={{ fontSize: 12.5, marginLeft: 4 }}>Dow Jones Transportation Average INDX</span>
      </div>
      <div style={{ position: "absolute", left: 16, top: 17, fontSize: 11.5, fontFamily: TAGFONT }}>5-Feb-2015</div>
      <div style={{ position: "absolute", right: 48, top: 2, fontSize: 11.5, fontFamily: TAGFONT, color: "#555" }}>© StockCharts.com</div>
      <div style={{ position: "absolute", right: 47, top: 16, fontSize: 11.5, fontFamily: TAGFONT, whiteSpace: "nowrap" }}>
        <b>Open</b> 8892.59 <b style={{ marginLeft: 4 }}>High</b> 8972.56 <b style={{ marginLeft: 4 }}>Low</b> 8892.59 <b style={{ marginLeft: 4 }}>Close</b> 8966.52 <b style={{ marginLeft: 4 }}>Chg</b> +81.58 (+0.92%) <span style={{ color: "#1e7a32", fontSize: 9 }}>▲</span>
      </div>

      <Frame top={P.rsi} height={H} />
      <Frame top={P.price} height={PH} dotted />
      <Frame top={P.vol} height={H} />
      <Frame top={P.macd} height={H} />
      <Frame top={P.hist} height={H} />
      <Frame top={P.sto} height={H} />
      <Frame top={P.adx} height={H} dotted />

      {/* RSI */}
      <div style={{ position: "absolute", left: 0, top: P.rsi }}>
        <ComposedChart width={W} height={H} data={rows} margin={margin}>
          {xAxis(false)}
          {yAxis([-5.15, 106.5], [90, 70, 30, 10])}
          {vGrid()}
          {hGrid([0, 10, 20, 40, 60, 80, 90, 100])}
          <ReferenceLine y={70} stroke={DARK} />
          <ReferenceLine y={30} stroke={DARK} />
          <ReferenceLine y={50} stroke={DARK} strokeDasharray="7 3 2 3" />
          <Line dataKey="rsi" stroke="#111" strokeWidth={1.2} dot={false} connectNulls isAnimationActive={false} />
          <ReferenceLine y={52.97} stroke="none" label={tag("52.97", "#000")} />
        </ComposedChart>
      </div>

      {/* Price */}
      <div style={{ position: "absolute", left: 0, top: P.price }}>
        <ComposedChart width={W} height={PH + 15} data={rows} margin={margin}>
          {xAxis(true)}
          {yAxis([7045, 9366], [9300, 9200, 8700, 8400, 8300, 8200, 8100, 8000, 7900, 7800, 7700, 7600, 7500, 7400, 7300, 7200, 7100], undefined, "log")}
          {vGrid()}
          {hGrid(range(7100, 9300, 100))}
          <Area dataKey="bb" stroke="#aeb2ba" strokeWidth={1} fill="#b4bec2" fillOpacity={0.45} connectNulls dot={false} isAnimationActive={false} />
          <Line dataKey="bbMid" stroke="#a8a8b0" strokeDasharray="2 2" strokeWidth={1} dot={false} connectNulls isAnimationActive={false} />
          <Line dataKey="ma200" stroke="#9a40e0" strokeWidth={1.3} dot={false} connectNulls isAnimationActive={false} />
          <Line dataKey="ma100" stroke="#ff20f0" strokeWidth={1.3} dot={false} connectNulls isAnimationActive={false} />
          <Line dataKey="ma50" stroke="#1e7a32" strokeWidth={1.3} dot={false} connectNulls isAnimationActive={false} />
          <Line dataKey="ma10" stroke="#d8183c" strokeWidth={1.1} dot={false} connectNulls isAnimationActive={false} />
          <Bar dataKey="range" barSize={4} shape={(p: any) => <Candle {...p} />} isAnimationActive={false} />
          <ReferenceLine segment={seg(dottedTrend)} stroke="#111" strokeWidth={2} strokeDasharray="2.5 2.5" />
          <ReferenceLine segment={seg(lowerResist)} stroke="#1a30e0" strokeWidth={2.2} strokeDasharray="7 3" />
          <ReferenceLine segment={seg(upperResist)} stroke="#1a30e0" strokeWidth={2.2} strokeDasharray="4 3" />
          <ReferenceLine segment={seg(supportTrend)} stroke="#000" strokeWidth={2.4} />
          <ReferenceLine y={9104.82} stroke="none" label={tag("9104.82", "#888")} />
          <ReferenceLine y={8877.81} stroke="none" label={tag("8877.81", RED, RED)} />
          <ReferenceLine y={8858.03} stroke="none" label={tag("8858.03", "#888")} />
          <ReferenceLine y={8966.52} stroke="none" label={tag("8966.52", "#000", "#000", true)} />
          <ReferenceLine y={8762.47} stroke="none" label={tag("8762.47", "#ff20f0", "#ff20f0")} />
          <ReferenceLine y={8611.23} stroke="none" label={tag("8611.23", "#888")} />
          <ReferenceLine y={8456.77} stroke="none" label={tag("8456.77", "#9a40e0", "#9a40e0")} />
        </ComposedChart>
      </div>

      {/* Volume */}
      <div style={{ position: "absolute", left: 0, top: P.vol }}>
        <ComposedChart width={W} height={H} data={rows} margin={margin}>
          {xAxis(false)}
          {yAxis([-1.1, 176.1], [150, 125, 100, 75, 50, 25], (v) => v + "M")}
          {vGrid()}
          {hGrid([25, 50, 75, 100, 125, 150])}
          <Bar dataKey="vol" barSize={4} shape={(p: any) => <VolBar {...p} />} isAnimationActive={false} />
          <ReferenceLine y={70.0754} stroke="none" label={tag("70075400", "#000")} />
        </ComposedChart>
      </div>

      {/* MACD */}
      <div style={{ position: "absolute", left: 0, top: P.macd }}>
        <ComposedChart width={W} height={H} data={rows} margin={margin}>
          {xAxis(false)}
          {yAxis([-165.6, 220.7], [200, 150, 100, 50, -50, -100, -150])}
          {vGrid()}
          {hGrid([-150, -100, -50, 0, 50, 100, 150, 200])}
          <Bar dataKey="hist" barSize={4.4} fill="#4a9fd2" stroke="#2a6c98" strokeWidth={0.7} isAnimationActive={false} />
          <Line dataKey="signal" stroke="#ff1c1c" strokeWidth={1.1} dot={false} connectNulls isAnimationActive={false} />
          <Line dataKey="macd" stroke="#000" strokeWidth={2} dot={false} connectNulls isAnimationActive={false} />
          <ReferenceLine y={-24.386} stroke="none" label={tag("-24.386", "#ff1c1c", "#ff1c1c")} />
          <ReferenceLine y={8.866} stroke="none" label={tag("8.866", "#3a8fc4")} />
          <ReferenceLine y={-15.521} stroke="none" label={tag("-15.521", "#000")} />
        </ComposedChart>
      </div>

      {/* MACD histogram */}
      <div style={{ position: "absolute", left: 0, top: P.hist }}>
        <ComposedChart width={W} height={H} data={rows} margin={margin}>
          {xAxis(false)}
          {yAxis([-85.9, 91.3], [75, 50, 25, -25, -50, -75])}
          {vGrid()}
          {hGrid([-75, -50, -25, 0, 25, 50, 75])}
          <Bar dataKey="hist" barSize={4.4} fill="#4a9fd2" stroke="#2a6c98" strokeWidth={0.7} isAnimationActive={false} />
          <ReferenceLine y={8.866} stroke="none" label={tag("8.866", "#3a8fc4")} />
        </ComposedChart>
      </div>

      {/* Full stochastics */}
      <div style={{ position: "absolute", left: 0, top: P.sto }}>
        <ComposedChart width={W} height={H} data={rows} margin={margin}>
          {xAxis(false)}
          {yAxis([-5.06, 106.4], [80, 20])}
          {vGrid()}
          {hGrid([0, 10, 30, 40, 60, 70, 90, 100])}
          <ReferenceLine y={80} stroke={DARK} />
          <ReferenceLine y={20} stroke={DARK} />
          <ReferenceLine y={50} stroke={DARK} strokeDasharray="7 3 2 3" />
          <Line dataKey="d" stroke="#ff1c1c" strokeWidth={1.1} dot={false} connectNulls isAnimationActive={false} />
          <Line dataKey="k" stroke="#000" strokeWidth={2} dot={false} connectNulls isAnimationActive={false} />
          <ReferenceLine y={58.62} stroke="none" label={tag("58.62", "#000")} />
          <ReferenceLine y={46.51} stroke="none" label={tag("46.51", "#ff1c1c")} />
        </ComposedChart>
      </div>

      {/* ADX */}
      <div style={{ position: "absolute", left: 0, top: P.adx }}>
        <ComposedChart width={W} height={H + 15} data={rows} margin={margin}>
          {xAxis(true)}
          {yAxis([8.1, 44.6], [40, 35, 30, 20, 15, 10])}
          {vGrid()}
          {hGrid([10, 15, 20, 25, 30, 35, 40])}
          <Line dataKey="mdi" stroke="#b8244a" strokeWidth={1} dot={false} connectNulls isAnimationActive={false} />
          <Line dataKey="pdi" stroke="#2a7a3a" strokeWidth={1} dot={false} connectNulls isAnimationActive={false} />
          <Line dataKey="adx" stroke="#000" strokeWidth={2} dot={false} connectNulls isAnimationActive={false} />
          <ReferenceLine y={22.73} stroke="none" label={tag("22.73", "#2a7a3a")} />
          <ReferenceLine y={24.94} stroke="none" label={tag("24.94", "#b8244a")} />
          <ReferenceLine y={16.75} stroke="none" label={tag("16.75", "#000")} />
        </ComposedChart>
      </div>

      {/* legends */}
      <Legend top={P.rsi + 1}><Mount color="#3a7a4a" />RSI(14) 52.97</Legend>
      <Legend top={P.price + 1}>
        <div><CandleIcon />$TRAN (Daily) 8966.52</div>
        <div style={{ color: "#a4a4a8", marginTop: -2 }}><Mount color="#c0c0c4" />BB(20,2.0) 8611.23 - 8858.03 - 9104.82</div>
        <div style={{ color: "#d8183c", marginTop: -2 }}><Dash color="#d8183c" />MA(10) 8877.81</div>
        <div style={{ color: "#1e7a32", marginTop: -2 }}><Dash color="#1e7a32" />MA(50) 8958.56</div>
        <div style={{ color: "#ff20f0", marginTop: -2 }}><Dash color="#ff20f0" />MA(100) 8762.47</div>
        <div style={{ color: "#9a40e0", marginTop: -2 }}><Dash color="#9a40e0" />MA(200) 8456.77</div>
      </Legend>
      <Legend top={P.vol + 1}><Bars color="#6c6c70" />Volume undef</Legend>
      <Legend top={P.macd + 1}><Dash color="#000" />MACD(12,26,9) -15.521<span style={{ color: "#ff1c1c" }}>, -24.386</span><span style={{ color: "#4a9fd2" }}>, 8.866</span></Legend>
      <Legend top={P.hist + 1}><Bars color="#4a9fd2" />MACD(12,26,9) Hist 8.866</Legend>
      <Legend top={P.sto + 1}><Dash color="#000" />Full STO %K(14,3) %D(3) 58.62, <span style={{ color: "#ff1c1c" }}>46.51</span></Legend>
      <Legend top={P.adx + 1}><Dash color="#000" />ADX(14) 16.75 <span style={{ color: "#2a7a3a" }}>+DI 22.73</span> <span style={{ color: "#b8244a" }}>-DI 24.94</span></Legend>

      {/* chart note */}
      <div style={{ position: "absolute", left: 533, top: 179, width: 223, height: 32, boxSizing: "border-box", background: "#fff", border: "1px solid #8a8a8a", boxShadow: "3px 3px 0 #b4b4bc", fontFamily: TAGFONT, fontSize: 22, lineHeight: "30px", paddingLeft: 3, whiteSpace: "nowrap" }}>
        Transports, daily, 1yr
      </div>
    </div>
  );
}
